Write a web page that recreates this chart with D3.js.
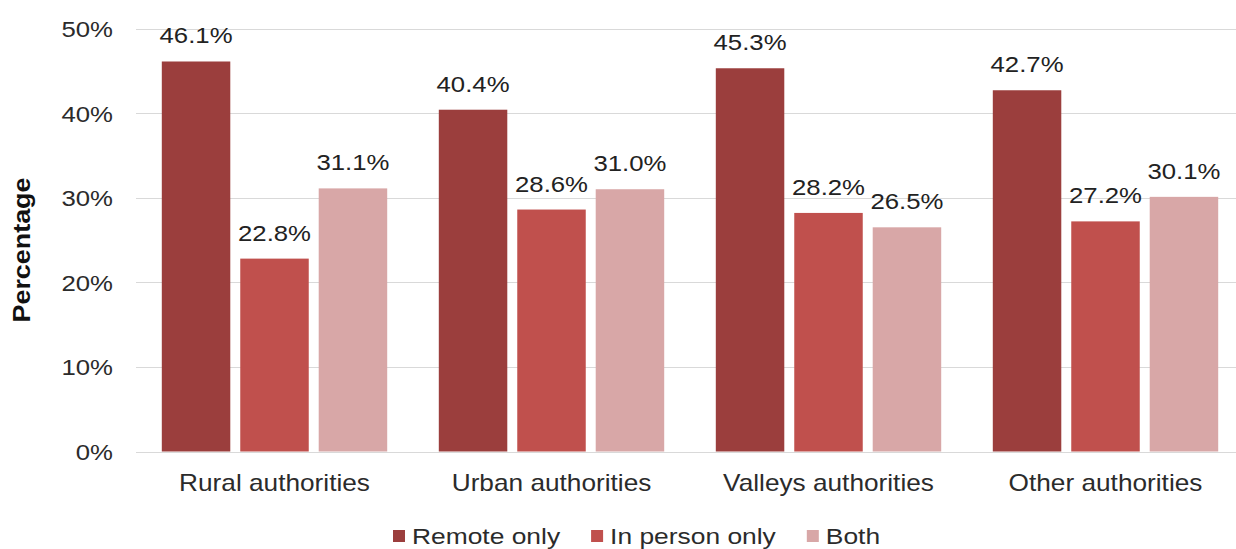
<!DOCTYPE html>
<html>
<head>
<meta charset="utf-8">
<script src="https://cdn.jsdelivr.net/npm/d3@7"></script>
<style>
  html, body { margin: 0; padding: 0; background: #fff; }
  svg { display: block; font-family: "Liberation Sans", Arial, sans-serif; }
</style>
</head>
<body>
<svg id="chart" width="1236" height="549"></svg>
<script>
const categories = ["Rural authorities", "Urban authorities", "Valleys authorities", "Other authorities"];
const seriesNames = ["Remote only", "In person only", "Both"];
const remoteOnly = [46.1, 40.4, 45.3, 42.7];
const inPersonOnly = [22.8, 28.6, 28.2, 27.2];
const both = [31.1, 31.0, 26.5, 30.1];
const yTicks = [0, 10, 20, 30, 40, 50];
const colors = ["#9b3e3d", "#c0504d", "#d8a7a7"];

const seriesValues = [remoteOnly, inPersonOnly, both];

const svg = d3.select("#chart");
const plotLeft = 136, plotRight = 1244;
const y0 = 451.5, y50 = 28.5;

const x0 = d3.scaleBand().domain(categories).range([plotLeft, plotRight]).paddingInner(0).paddingOuter(0);
const step = x0.bandwidth();
const groupPad = 25.8;
const x1 = d3.scaleBand().domain(seriesNames).range([groupPad, step - groupPad]).paddingInner(0.127).paddingOuter(0);
const y = d3.scaleLinear().domain([0, 50]).range([y0, y50]);

// gridlines
const grid = svg.append("g");
grid.selectAll("line").data(yTicks).join("line")
  .attr("x1", plotLeft).attr("x2", plotRight)
  .attr("y1", d => Math.round(y(d)) + 0.5).attr("y2", d => Math.round(y(d)) + 0.5)
  .attr("stroke", "#d9d9d9").attr("stroke-width", 1.2);

// y-axis labels
const yAxis = d3.axisLeft(y).tickValues(yTicks).tickFormat(d => d + "%").tickSize(0).tickPadding(0);
const yg = svg.append("g").attr("transform", `translate(${plotLeft},0)`).call(yAxis);
yg.select(".domain").remove();
yg.selectAll(".tick text")
  .attr("x", 0).attr("dy", null).attr("y", 0)
  .attr("font-size", 22).attr("fill", "#2b2b2b").attr("font-family", "Liberation Sans, Arial, sans-serif")
  .attr("text-anchor", "end")
  .attr("transform", "translate(-23,8) scale(1.17,1)");

// bars
const groups = svg.append("g").selectAll("g").data(categories).join("g")
  .attr("transform", d => `translate(${x0(d)},0)`);

groups.each(function(cat, ci) {
  const g = d3.select(this);
  const data = seriesNames.map((s, si) => ({ s, si, v: seriesValues[si][ci] }));
  g.selectAll("rect").data(data).join("rect")
    .attr("x", d => x1(d.s)).attr("width", x1.bandwidth())
    .attr("y", d => y(d.v)).attr("height", d => y0 - y(d.v))
    .attr("fill", d => colors[d.si]);
  g.selectAll("text.lbl").data(data).join("text").attr("class", "lbl")
    .attr("transform", d => `translate(${x1(d.s) + x1.bandwidth() / 2},${y(d.v) - 18}) scale(1.12,1)`)
    .attr("text-anchor", "middle").attr("font-size", 23).attr("fill", "#222")
    .text(d => d.v.toFixed(1) + "%");
});

// x-axis category labels
const xAxis = d3.axisBottom(x0).tickSize(0).tickPadding(0);
const xg = svg.append("g").attr("transform", `translate(0,${y0})`).call(xAxis);
xg.select(".domain").remove();
xg.selectAll(".tick text")
  .attr("y", 0).attr("dy", null)
  .attr("font-size", 23).attr("fill", "#2b2b2b").attr("font-family", "Liberation Sans, Arial, sans-serif")
  .attr("transform", "translate(0,39) scale(1.14,1)");

// y title
svg.append("text")
  .attr("transform", "translate(30,250) rotate(-90) scale(1.17,1)")
  .attr("text-anchor", "middle").attr("font-size", 23).attr("font-weight", "bold").attr("fill", "#111")
  .text("Percentage");

// legend
const legend = svg.append("g");
let lx = 393;
seriesNames.forEach((s, i) => {
  legend.append("rect").attr("x", lx).attr("y", 530).attr("width", 12).attr("height", 12).attr("fill", colors[i]);
  const t = legend.append("text")
    .attr("transform", `translate(${lx + 19},543.5) scale(1.2,1)`)
    .attr("font-size", 22).attr("fill", "#2b2b2b").text(s);
  const w = t.node().getComputedTextLength() * 1.2;
  lx = lx + 19 + w + 31;
});
</script>
</body>
</html>
